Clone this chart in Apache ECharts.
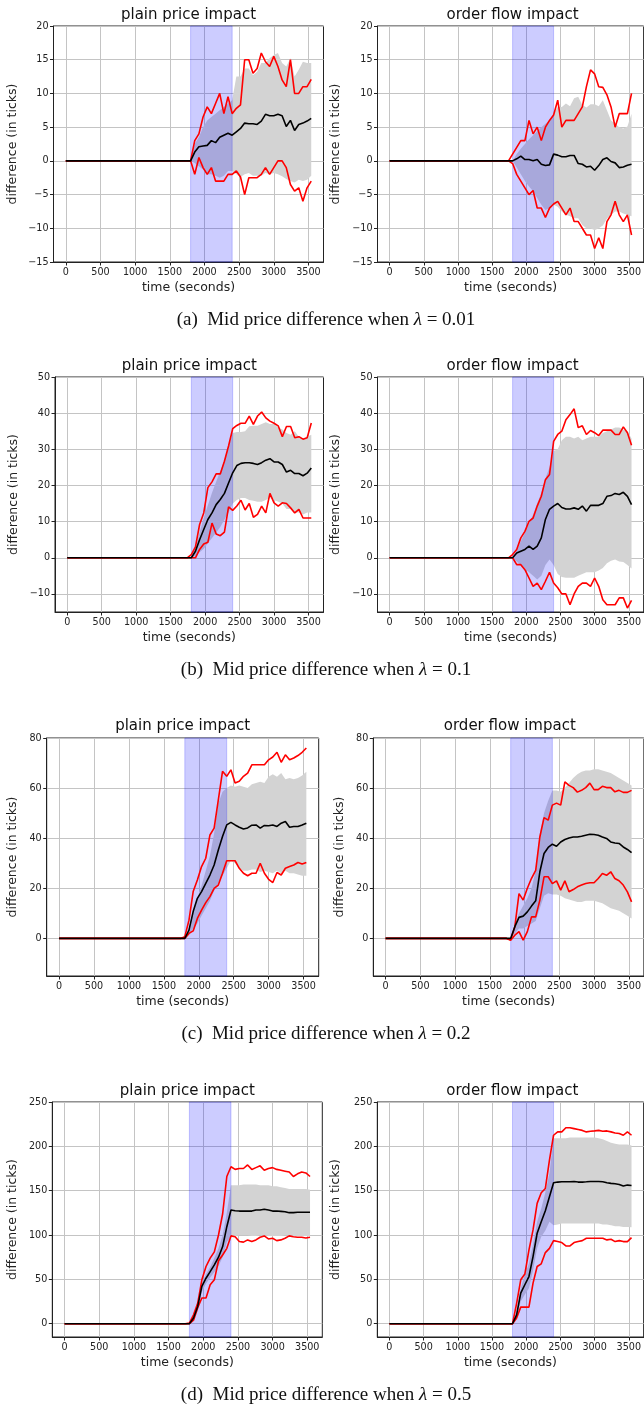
<!DOCTYPE html>
<html>
<head>
<meta charset="utf-8">
<script src="https://cdn.jsdelivr.net/npm/echarts@6/dist/echarts.min.js"></script>
<style>
html,body{margin:0;padding:0;background:#fff;}
#chart{width:644px;height:1406px;}
</style>
</head>
<body>
<div id="chart"></div>
<script>
// ---------------- DATA ----------------
const TIMES = [0,1740,1800,1860,1920,1980,2040,2100,2160,2220,2280,2340,2400,2460,2520,2580,2640,2700,2760,2820,2880,2940,3000,3060,3120,3180,3240,3300,3360,3420,3480,3540];
const BAND_TIMES = [1800,1860,1920,1980,2040,2100,2160,2220,2280,2340,2400,2460,2520,2580,2640,2700,2760,2820,2880,2940,3000,3060,3120,3180,3240,3300,3360,3420,3480,3540];
const X_TICKS = [0,500,1000,1500,2000,2500,3000,3500];
const Y_TICKS_A = [-15,-10,-5,0,5,10,15,20];
const Y_TICKS_B = [-10,0,10,20,30,40,50];
const Y_TICKS_C = [0,20,40,60,80];
const Y_TICKS_D = [0,50,100,150,200,250];
const SPAN = [1800,2400];
const TITLES = ['plain price impact','order flow impact'];
const CAPTION_LABELS = ['(a)','(b)','(c)','(d)'];
const LAMBDAS = ['0.01','0.1','0.2','0.5'];

// (a) lambda = 0.01, plain price impact
const a_pp_mean = [0,0, 0,1.3,2.1,2.2,2.3,3.0,2.7,3.5,3.8,4.1, 3.8,4.3,4.8,5.6,5.5,5.5,5.4,5.9,6.9,6.7, 6.7,6.9,6.7,5.1,6.0,4.5,5.4,5.6,5.9,6.3];
const a_pp_max  = [0,0, 0,3,4,6.5,8,7,8.5,10,7,9.5, 7,7.8,8.3,15,15,13,13.7,16,14.7,14, 15.5,14,12,11,15,10,10,11,11,12.1];
const a_pp_min  = [0,0, 0,-2,0.5,-1,-2,-1,-3,-3,-3,-2, -2,-1.5,-2.4,-5,-2.5,-2.5,-2.5,-2,-1,-2, -1,0,0,-1,-3.5,-4.5,-4,-6,-4,-3];
const a_pp_hi   = [0,2.5,3.5,5,6,6.5,7,7.5,8,8.5, 9,12.5,12.5,13.7,13.7,12.7,13.2,14.5,14.5,15.2, 15.7,16,14.5,14,15.2,12.5,13.5,14.7,14.5,14.5];
const a_pp_lo   = [0,-0.3,-0.8,-1.3,-2,-2,-2.2,-2.5,-2.2,-1.5, -1.5,-2,-2.4,-2,-1.8,-2.2,-2.2,-2.2,-1.8,-2, -1.8,-2,-2.3,-2.7,-3,-3.2,-2.8,-3,-2.8,-2.2];
// (a) lambda = 0.01, order flow impact
const a_of_mean = [0,0, 0,0.3,0.7,0.2,0.2,0,0.2,-0.5,-0.7,-0.6, 1,0.85,0.6,0.6,0.8,0.8,-0.4,-0.5,-0.9,-0.8, -1.4,-0.7,0.2,0.45,-0.1,-0.3,-1,-0.9,-0.65,-0.5];
const a_of_max  = [0,0, 1,2,3,3,6,4,5,3,5,6, 6.8,9,5,6,6,6,7,8,11,13.5, 12.9,11,10.9,9.8,8,5,7,7,7,10];
const a_of_min  = [0,0, -0.4,-2,-3,-4,-5,-4.4,-7,-7,-8.4,-7, -6.4,-6,-7,-8,-7,-9,-9,-10,-11,-11, -13,-11.4,-13,-9,-8,-6,-8,-9,-8,-11];
const a_of_hi   = [0,1,1.8,2.5,3.2,3.8,4.4,5,5.5,6, 7,8,8,8.5,8.1,9.3,9.5,8.3,7.9,8.4, 8.4,8.1,9,7.5,6,5.5,5,4.8,5.1,7];
const a_of_lo   = [0,-1,-2,-3,-3.8,-4.5,-5.5,-6.5,-7.3,-7, -6.5,-6.8,-7.5,-8,-8.2,-8.5,-8.5,-9.5,-10,-10, -10.3,-10,-9.6,-8.6,-8,-7.5,-7.5,-7.8,-8,-8.2];

// (b) lambda = 0.1, plain price impact
const b_pp_mean = [0,0, 0,1.8,5,7.8,10.6,12.4,14.7,16.1,17.8,20.7, 23.5,25.5,26.1,26.3,26.3,26.1,25.8,26.3,27,27.4, 26.5,26.5,25.8,23.7,24.2,23.3,23.3,22.7,23.4,24.8];
const b_pp_max  = [0,0, 0.9,3,9.2,12.4,19.4,21,23.2,23.2,26.7,30.9, 35.7,36.6,37.2,37.2,39.2,36.9,39.2,40.3,38.7,37.8, 37.2,36.5,33.5,36.3,36.3,33.2,33.5,32.8,33.2,37.3];
const b_pp_min  = [0,0, 0,0,2.3,3.8,4.3,9.6,6.6,6.1,7.1,14.1, 13.1,14.3,15.9,13.2,15,11.2,12,14.3,12.4,17.8, 15.2,14.3,15.2,15,13.8,12.4,13.4,11,11,11];
const b_pp_hi   = [0,2.5,7,11,14.5,18,21,24,27,30.5, 34.5,34.8,34.8,35,36.4,36.5,36.5,37,37.5,37, 37,36,35.5,34.5,34,35,33.5,33,33.5,34];
const b_pp_lo   = [0,0.5,1.5,2.5,4,5.5,7,8.5,10.5,12.5, 15,16,16.5,16.5,16,15.8,15.5,15.5,16,16.5, 16,15.5,15,13.5,13.5,12.5,12.5,12,12.5,12.5];
// (b) lambda = 0.1, order flow impact
const b_of_mean = [0,0, 0,1.3,1.8,2.3,3.2,2.3,3.2,5.5,10.6,13.4, 14.3,15,13.9,13.5,13.5,13.8,13.4,14.3,12.9,14.5, 14.5,14.5,15,17,17.2,17.8,17.5,18.1,17,14.7];
const b_of_max  = [0,0, 0.9,2.3,5.5,7.3,10.1,11,14.3,17,21.6,23, 32.2,34.1,35,38.2,39.6,41.2,36,36.5,34.1,35.2, 34.6,33.8,35.3,35.3,35.3,34.1,34.1,36.2,34.6,31.1];
const b_of_min  = [0,0, 0,-1.9,-1.9,-3.3,-5.6,-7.9,-7,-8.8,-6.5,-4, -7,-8.3,-10,-10,-13,-10,-7.9,-7,-7,-7.9, -5.6,-7.9,-11.6,-13,-13,-13,-11.1,-11.1,-13.9,-11.8];
const b_of_hi   = [0,2,4.5,7,9.5,12,15,18,22,25, 29.5,30,32.5,33.5,33.5,33,33.5,32.5,33,33.5, 33.5,33.5,34.5,35,35.5,36,36,35.5,35,33];
const b_of_lo   = [0,-1,-2,-3,-4,-5,-6,-5,-2,-0.5, -2,-4.5,-5.3,-5.5,-5.5,-5.5,-5,-4.5,-4,-4, -4,-3.5,-2.8,-1.5,-0.8,-0.5,-1,-1.2,-2,-3];

// (c) lambda = 0.2, plain price impact
const c_pp_mean = [0,0, 0,3.3,10.7,16,18.7,22,25.3,29.3,35.3,40.7, 45.3,46.3,45.3,44.4,43.7,44.1,45.2,45.3,44,45.1, 45,45.3,44.7,46,46.7,44.4,44.7,44.7,45.3,46];
const c_pp_max  = [0,0, 0.7,7.3,18.7,23.3,28.7,32,41.3,44,55.3,66.7, 64.7,67.3,62,62.7,64.7,66,69.3,69.3,69.3,69.3, 71.3,72.4,74.3,70.3,73.3,71.3,72,73,74.3,76];
const c_pp_min  = [0,0, 0,2,3,8,11.3,14.3,16.7,20,21.3,26, 31,31,31,28,26,25,26,26,30,26, 23.6,22.3,26.3,25.3,28,28.7,29.3,30.3,29.7,30.3];
const c_pp_hi   = [0,4,11,16,21,27,33,42,54,58.5, 60,61,60.5,61,60.5,60,61.5,62,62.5,62, 64.5,65.5,64.5,66,63.5,64,63.5,64,65,66.5];
const c_pp_lo   = [0,1.5,4,6,9,12,15,19,22,25, 28,31,30,28,27,27,27.5,27.5,26.5,27, 26.5,26,27,26,27,26,26,25.5,25,25];
// (c) lambda = 0.2, order flow impact
const c_of_mean = [0,0, 0,4.7,8.4,8.9,10.6,12.9,15,26.6,33.9,36.3, 37.6,36.8,38.5,39.5,40.1,40.5,40.5,40.8,41.2,41.6, 41.5,41.2,40.5,39.9,38.5,38.1,37.9,36.5,35.5,34.2];
const c_of_max  = [0,0, -0.5,4.7,17.9,15.3,20,24,27.2,40.5,48.2,47.2, 53.2,54,53.2,62.5,61.1,60.2,58.4,59.1,60.2,62, 59.4,59.4,60.7,60.2,60.2,58.5,59.1,58.3,58.3,59.1];
const c_of_min  = [0,0, -0.7,1.3,2.7,-0.7,2.7,8.6,8.6,15.3,24.6,24.6, 21.9,23,19.3,23,18.6,19.5,20.6,21.3,21.9,22.2, 22.2,23.9,25.9,25.2,26.6,23.9,23,21.3,18.6,14.6];
const c_of_hi   = [0,6,10,13,16,20,27,42,50,55, 59,59,58.5,60,62,64,65.5,66.5,67,67, 67.5,67.5,67,66.5,66,65,64,63,62,61];
const c_of_lo   = [0,2,4,4,5,6,7,12,17,18, 17.5,17.5,17,16,15.5,15,14.5,14.5,15,15, 15,14.5,14,13,12,11.5,11,10,9,8];

// (d) lambda = 0.5, plain price impact
const d_pp_mean = [0,0, 0,6.4,19.5,42,51.3,58.8,66.3,75,87,109.4, 128.2,127.4,127,127,127,127,128.2,128.2,129,128.2, 127,127,126.7,126.3,125.2,125.2,125.6,125.6,125.6,125.6];
const d_pp_max  = [0,0, 0.7,10,23,49.5,64.5,74,81,100,124,166, 177,174,175,175,179,174,176,178,173,175, 176,174,173,172,171,166,169,171,170,166];
const d_pp_min  = [0,0, 0,4,18,29,29,44,49.5,71,77.5,85, 99,98,92.6,92,94.5,92.6,94.5,97.5,99,95.6, 96.3,93.7,94.5,96.3,99,98,97.5,97.5,96.7,97.5];
const d_pp_hi   = [0,8,22,45,56,64,74,85,100,125, 156,156,156,157,157,157,157,156,156,156, 155,155,154,153,152,152,152,152,152,151];
const d_pp_lo   = [0,4,15,36,45,52,58,65,75,92, 98,99,100,100,100,99,99,100,100,99, 99,99,99,100,100,99,99,99,99,99];
// (d) lambda = 0.5, order flow impact
const d_of_mean = [0,0, 0,10,34.5,43.9,53.2,75.7,102,115,127.4,143.2, 159,159.7,160,160,160,160.4,159.7,159.7,160,160.4, 160.4,160.4,160,159,158.2,157.8,157,155.2,156.3,155.9];
const d_of_max  = [0,0, 0,23,49.5,56,83,105.7,135.7,147.7,152.5,184.4, 212.5,216.3,216.3,221,221,220,219,218,216.3,217, 217.4,218,217,217.4,216.3,215,214.4,212.5,216.3,212.5];
const d_of_min  = [0,0, 0,6.4,18.7,18.7,18.7,45.7,64.5,67.5,80.2,85, 93.7,92.6,91.5,87.7,87.7,91.5,92.6,93.7,96.3,96.3, 96.3,96.3,96.3,94.5,95.2,92.6,93.7,92.6,92.6,97];
const d_of_hi   = [0,15,40,55,68,90,115,130,148,170, 209,209,209,209,210,210,210,210,210,210, 210,209,208,206,204,203,202,202,202,201];
const d_of_lo   = [0,5,25,33,40,60,85,98,105,115, 111,112,113,113,113,113,113,113,113,113, 113,113,112,112,111,110,110,109,109,108.7];

// ---------------- LAYOUT ----------------
const FONT = 'DejaVu Sans';
const rows = [
  {top:26,  height:236, yMin:-15, yMax:20,  yTicks:Y_TICKS_A, titleY:15,   capY:320,  left:[53.5,270,34],   right:[377.5,270,35],
   data:[[a_pp_mean,a_pp_max,a_pp_min,a_pp_hi,a_pp_lo],[a_of_mean,a_of_max,a_of_min,a_of_hi,a_of_lo]]},
  {top:377, height:235, yMin:-15, yMax:50,  yTicks:Y_TICKS_B, titleY:366,  capY:670,  left:[55,268.5,35],   right:[377.5,270,35],
   data:[[b_pp_mean,b_pp_max,b_pp_min,b_pp_hi,b_pp_lo],[b_of_mean,b_of_max,b_of_min,b_of_hi,b_of_lo]]},
  {top:738, height:238, yMin:-15, yMax:80,  yTicks:Y_TICKS_C, titleY:726,  capY:1034, left:[46.7,272,27],   right:[373.3,273,27],
   data:[[c_pp_mean,c_pp_max,c_pp_min,c_pp_hi,c_pp_lo],[c_of_mean,c_of_max,c_of_min,c_of_hi,c_of_lo]]},
  {top:1102,height:235, yMin:-15, yMax:250, yTicks:Y_TICKS_D, titleY:1091, capY:1395, left:[52.3,270,33],   right:[377.3,270,35],
   data:[[d_pp_mean,d_pp_max,d_pp_min,d_pp_hi,d_pp_lo],[d_of_mean,d_of_max,d_of_min,d_of_hi,d_of_lo]]}
];

const minus = v => String(v).replace('-', '\u2212');
const grids = [], xAxes = [], yAxes = [], series = [], graphics = [];

rows.forEach((row, r) => {
  [row.left, row.right].forEach((g, c) => {
    const idx = grids.length;
    const [gl, gw, nameGap] = g;
    grids.push({left:gl, top:row.top, width:gw, height:row.height, show:true,
      borderColor:'#222', borderWidth:1, backgroundColor:'transparent', containLabel:false});
    xAxes.push({type:'value', gridIndex:idx, min:-177, max:3717,
      name:'time (seconds)', nameLocation:'middle', nameGap:19,
      nameTextStyle:{fontFamily:FONT, fontSize:12.5, color:'#222'},
      axisLine:{show:true, onZero:false, lineStyle:{color:'#222', width:1}},
      axisTick:{show:true, length:3.5, customValues:X_TICKS, lineStyle:{color:'#222', width:1}},
      axisLabel:{customValues:X_TICKS, fontFamily:FONT, fontSize:9.6, color:'#222', margin:5, formatter:minus},
      splitLine:{show:true, lineStyle:{color:'#c4c4c4', width:1}}});
    yAxes.push({type:'value', gridIndex:idx, min:row.yMin, max:row.yMax,
      name:'difference (in ticks)', nameLocation:'middle', nameGap:nameGap,
      nameTextStyle:{fontFamily:FONT, fontSize:12.5, color:'#222'},
      axisLine:{show:true, onZero:false, lineStyle:{color:'#222', width:1}},
      axisTick:{show:true, length:3.5, customValues:row.yTicks, lineStyle:{color:'#222', width:1}},
      axisLabel:{customValues:row.yTicks, fontFamily:FONT, fontSize:9.6, color:'#222', margin:5, formatter:minus},
      splitLine:{show:true, lineStyle:{color:'#c4c4c4', width:1}}});

    const [mean, mx, mn, hi, lo] = row.data[c];
    const bandData = BAND_TIMES.map((t, i) => [t, lo[i], hi[i]]);
    // spread band
    series.push({type:'custom', xAxisIndex:idx, yAxisIndex:idx, z:1, silent:true, clip:true,
      data:bandData, encode:{x:0, y:[1,2]},
      renderItem:(params, api) => {
        if (params.dataIndex !== 0) return null;
        const up = bandData.map(d => api.coord([d[0], d[2]]));
        const dn = bandData.map(d => api.coord([d[0], d[1]])).reverse();
        return {type:'polygon', shape:{points:up.concat(dn)}, style:{fill:'#d3d3d3', stroke:'none'}};
      }});
    // shaded period
    series.push({type:'custom', xAxisIndex:idx, yAxisIndex:idx, z:2, silent:true,
      data:[SPAN], encode:{x:[0,1]},
      renderItem:(params, api) => {
        const cs = params.coordSys;
        const x1 = api.coord([api.value(0), 0])[0];
        const x2 = api.coord([api.value(1), 0])[0];
        return {type:'rect', shape:{x:x1, y:cs.y, width:x2 - x1, height:cs.height},
          style:{fill:'rgba(0,0,255,0.2)', stroke:'rgba(0,0,255,0.2)', lineWidth:1}};
      }});
    const mk = (arr, color, z) => ({type:'line', xAxisIndex:idx, yAxisIndex:idx, z:z, silent:true,
      showSymbol:false, symbol:'none', animation:false,
      lineStyle:{color:color, width:1.6}, data:TIMES.map((t, i) => [t, arr[i]])});
    series.push(mk(mx, '#ff0000', 3));
    series.push(mk(mn, '#ff0000', 3));
    series.push(mk(mean, '#000000', 4));

    graphics.push({type:'text', x:gl + gw / 2, y:row.titleY, z:10,
      style:{text:TITLES[c], fontFamily:FONT, fontSize:15, fill:'#111', align:'center', verticalAlign:'middle'}});
  });
  graphics.push({type:'text', x:326, y:row.capY, z:10,
    style:{text:CAPTION_LABELS[r] + '  Mid price difference when {i|\u03bb} = ' + LAMBDAS[r],
      fontFamily:'Liberation Serif', fontSize:19, fill:'#111', align:'center', verticalAlign:'middle',
      rich:{i:{fontFamily:'Liberation Serif', fontSize:19, fontStyle:'italic', fill:'#111'}}}});
});

const chart = echarts.init(document.getElementById('chart'), null, {renderer:'canvas'});
chart.setOption({
  animation:false,
  backgroundColor:'#fff',
  grid:grids, xAxis:xAxes, yAxis:yAxes, series:series, graphic:graphics
});
</script>
</body>
</html>
